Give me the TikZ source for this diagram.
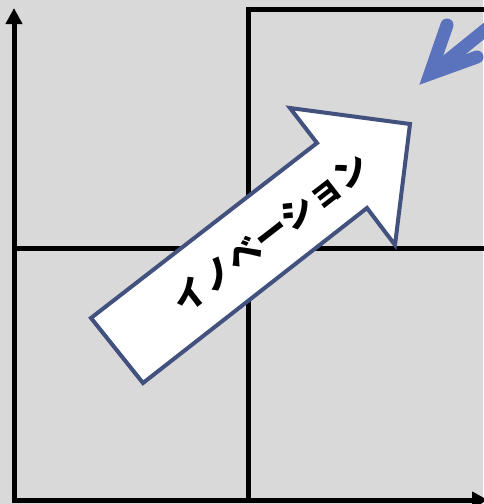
\documentclass[tikz,border=0pt]{standalone}
\usepackage{fontspec}
\newfontfamily\jpfont{Noto Sans CJK JP}
\usetikzlibrary{arrows.meta}
\definecolor{bggray}{HTML}{D9D9D9}
\definecolor{arrowedge}{HTML}{42517E}
\definecolor{smallblue}{HTML}{5B72BC}
\tikzset{
  axisline/.style={line width=5pt, black},
  gridline/.style={line width=5pt, black},
  bigarrow/.style={fill=white, draw=arrowedge, line width=4pt, line join=miter},
  smallarrow/.style={draw=smallblue, line width=13pt, line cap=round, line join=miter},
  label/.style={font=\jpfont\bfseries\fontsize{34}{34}\selectfont, rotate=37.8, inner sep=0pt}
}
\begin{document}
\begin{tikzpicture}[x=1pt,y=-1pt]
\useasboundingbox (0,0) rectangle (483,504);
\fill[bggray] (0,0) rectangle (483,504);
% grid lines
\coordinate (topcorner) at (248,9);
\coordinate (topright) at (490,9);
\coordinate (midbottom) at (248,502);
\coordinate (midleft) at (14,248);
\coordinate (midright) at (490,248);
\draw[gridline, line join=miter] (midbottom) -- (topcorner) -- (topright);
\draw[gridline] (midleft) -- (midright);
% axes
\coordinate (origin) at (14,500);
\coordinate (ytip) at (14,8);
\coordinate (xtip) at (488,500);
\draw[axisline, -{Triangle[width=16pt,length=16pt]}] (origin) ++(0,2.5) -- (ytip);
\draw[axisline, -{Triangle[width=16pt,length=16pt]}] (origin) ++(-2.5,0) -- (xtip);
% big arrow
\draw[bigarrow] (91,318) -- (317,143) -- (290,108) -- (410,124) -- (395,245) -- (367,208) -- (143,383) -- cycle;
\node[label] (txt) at (271,233) {イノベーション};
% small arrow
\draw[smallarrow] (447,25) -- (430,74) -- (477,57);
\draw[smallarrow] (500,18) -- (432,73);
\end{tikzpicture}
\end{document}
